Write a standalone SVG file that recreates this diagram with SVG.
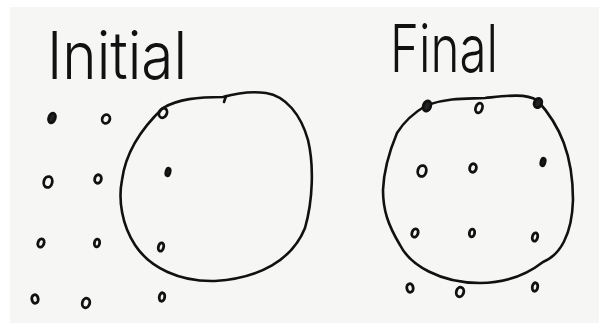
<svg xmlns="http://www.w3.org/2000/svg" width="599" height="332" viewBox="0 0 599 332">
<style>
.ink{fill:none;stroke:#111;stroke-width:2.6;stroke-linecap:round;stroke-linejoin:round}
.dot{fill:none;stroke:#111;stroke-width:2.8}
.fill{fill:#222}
.title{font-family:"Inter","Liberation Sans","DejaVu Sans",sans-serif;font-size:66px;fill:#111;font-weight:300}
</style>
<rect width="599" height="332" fill="#ffffff"/>
<rect x="10" y="7" width="589" height="316" fill="#f6f6f4"/>
<g id="title-initial"><text class="title" x="47" y="79" textLength="140" lengthAdjust="spacingAndGlyphs">Initial</text></g>
<g id="title-final"><text class="title" x="390" y="72" textLength="108" lengthAdjust="spacingAndGlyphs">Final</text></g>
<g id="circle-initial">
<path class="ink" d="M163,108 C178,99 198,97 223,97 C237,93 252,91 266,93 C286,96 301,115 308,140 C314,165 313,200 305,228 C292,260 260,278 215,281 C180,282 150,268 135,245 C122,225 118,200 122,180 C126,150 145,125 163,108 Z"/>
<path class="ink" d="M224,102 L226,96"/>
</g>
<g id="circle-final">
<path class="ink" d="M427,105 C450,97 470,99 485,98 C505,96 525,93 537,100 C560,125 573,155 573,200 C572,235 560,255 543,262 C525,276 505,283 480,283 C440,283 410,265 400,245 C388,225 383,210 383,190 C384,165 392,145 397,133 C405,120 415,112 427,105 Z"/>
</g>
<g id="dots-initial">
<ellipse class="dot fill" cx="52" cy="118" rx="3.2" ry="5" transform="rotate(20 52 118)"/>
<ellipse class="dot" cx="106" cy="119" rx="3.8" ry="4.5" transform="rotate(20 106 119)"/>
<ellipse class="dot" cx="163" cy="113" rx="3.8" ry="5" transform="rotate(25 163 113)"/>
<ellipse class="dot" cx="48" cy="182" rx="4.2" ry="5.5" transform="rotate(15 48 182)"/>
<ellipse class="dot" cx="98" cy="179" rx="3.3" ry="4.3" transform="rotate(15 98 179)"/>
<ellipse class="dot fill" cx="168" cy="172" rx="2" ry="3.8" transform="rotate(15 168 172)"/>
<ellipse class="dot" cx="41" cy="243" rx="3" ry="4.3" transform="rotate(20 41 243)"/>
<ellipse class="dot" cx="97" cy="243" rx="2.6" ry="4" transform="rotate(10 97 243)"/>
<ellipse class="dot" cx="161" cy="247" rx="2.6" ry="4.3" transform="rotate(15 161 247)"/>
<ellipse class="dot" cx="35" cy="299" rx="3.2" ry="4.3" transform="rotate(-10 35 299)"/>
<ellipse class="dot" cx="86" cy="303" rx="3.7" ry="4.8" transform="rotate(15 86 303)"/>
<ellipse class="dot" cx="162" cy="297" rx="2.7" ry="4.3" transform="rotate(10 162 297)"/>
</g>
<g id="dots-final">
<ellipse class="dot fill" cx="427" cy="106" rx="3.7" ry="5.3" transform="rotate(20 427 106)"/>
<ellipse class="dot" cx="479" cy="108" rx="3.3" ry="5" transform="rotate(20 479 108)"/>
<ellipse class="dot fill" cx="538" cy="103" rx="3.7" ry="4.8" transform="rotate(20 538 103)"/>
<ellipse class="dot" cx="422" cy="171" rx="4.2" ry="5.5" transform="rotate(15 422 171)"/>
<ellipse class="dot" cx="473" cy="168" rx="3.3" ry="4.3" transform="rotate(15 473 168)"/>
<ellipse class="dot fill" cx="543" cy="162" rx="2" ry="3.8" transform="rotate(15 543 162)"/>
<ellipse class="dot" cx="415" cy="233" rx="3" ry="4.3" transform="rotate(20 415 233)"/>
<ellipse class="dot" cx="472" cy="233" rx="2.6" ry="4" transform="rotate(10 472 233)"/>
<ellipse class="dot" cx="535" cy="237" rx="2.6" ry="4.3" transform="rotate(15 535 237)"/>
<ellipse class="dot" cx="410" cy="288" rx="3.2" ry="4.3" transform="rotate(-10 410 288)"/>
<ellipse class="dot" cx="460" cy="292" rx="3.7" ry="4.8" transform="rotate(15 460 292)"/>
<ellipse class="dot" cx="535" cy="287" rx="2.7" ry="4.3" transform="rotate(10 535 287)"/>
</g>
</svg>
